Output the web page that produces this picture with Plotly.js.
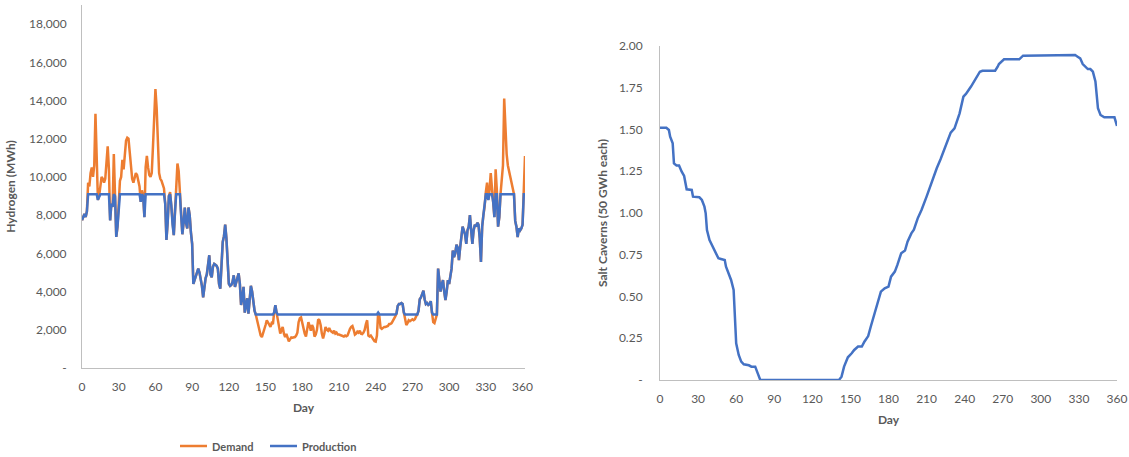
<!DOCTYPE html>
<html>
<head>
<meta charset="utf-8">
<script src="https://cdn.plot.ly/plotly-3.0.1.min.js"></script>
<style>html,body{margin:0;padding:0;background:#fff;}#chart{width:1129px;height:457px;}</style>
</head>
<body>
<div id="chart"></div>
<script>
// ---- Data ----
// Daily hydrogen demand (MWh), day 0..362
const demand = [
7730,7900,8070,7900,8200,9700,9500,10200,10500,10000,
10600,13300,11500,8800,9000,9400,10000,9900,9700,9900,
10800,11600,10400,7730,8600,8430,11200,9000,6860,7400,
8600,9800,10000,10900,10400,11000,11900,12050,12000,11300,
10300,9900,9700,9900,10200,10100,9800,9500,8700,9300,
9000,7900,10500,11100,10500,10100,10000,10200,11600,13000,
14600,13600,11800,10200,9900,9800,9600,9400,8600,6700,
7600,9000,9200,8500,7500,6950,8200,10000,10700,10300,
9300,8000,7000,7600,8400,7600,7300,8400,8000,7100,
6500,4400,4600,4800,5000,5200,5000,4700,4300,3700,
4300,4700,4900,5600,5900,4900,4750,5300,5450,5400,
5350,5200,4400,4150,5200,6600,6900,7500,6800,5800,
4400,4300,4350,4500,4850,4250,4500,4600,4950,4400,
3300,3700,4250,2900,3400,3650,2850,3500,4300,4000,
3400,3000,2800,2500,2150,1900,1700,1620,1800,2050,
2250,2500,2400,2250,2150,2350,2300,2900,3280,2900,
2500,2100,1800,2000,2150,1800,1620,1780,1600,1400,
1500,1600,1580,1600,1620,1700,1850,2400,2600,2650,
2300,1950,1800,1650,2000,2400,2200,1950,2250,2100,
1650,1750,2000,2550,2500,2250,1800,1550,1800,2150,
2000,1950,2100,1950,1900,1850,1950,1800,1850,1750,
1750,1720,1700,1680,1650,1700,1660,1700,1950,2050,
2150,2200,2000,1750,1800,1900,1850,1950,1800,1780,
1850,2000,2300,2500,1700,1650,1700,1600,1500,1400,
1380,1700,2900,2700,2100,2050,2100,2150,2150,2200,
2200,2300,2300,2350,2450,2550,2700,2850,3250,3350,
3350,3400,3350,2900,2500,2250,2350,2500,2450,2500,
2550,2500,2550,2700,2800,3000,3600,3700,3950,4050,
3600,3350,3400,3300,3350,3500,2900,2400,2350,2600,
2800,5200,4600,4000,4400,4600,4000,3550,4000,4600,
4400,4900,5200,6150,5800,6000,6450,6300,5650,6300,
6950,7400,7200,7000,6500,7200,7400,8000,7200,6500,
7200,7500,7400,7600,7500,6800,5550,7400,8000,8450,
9200,9700,8800,9300,10200,9400,8700,7900,10400,9300,
7400,7900,9100,9900,10600,14100,12500,11200,10600,10300,
10000,9600,9400,9100,7700,7400,6850,7300,7200,7300,
7500,9100,11100
];
// Daily hydrogen production (MWh), day 0..362
const production = [
7730,7900,8070,7900,8200,9100,9100,9100,9100,9100,
9100,9100,9100,8800,9000,9100,9100,9100,9100,9100,
9100,9100,9100,7730,8600,8430,9100,9000,6860,7400,
8600,9100,9100,9100,9100,9100,9100,9100,9100,9100,
9100,9100,9100,9100,9100,9100,9100,9100,8700,9100,
9000,7900,9100,9100,9100,9100,9100,9100,9100,9100,
9100,9100,9100,9100,9100,9100,9100,9100,8600,6700,
7600,9000,9100,8500,7500,6950,8200,9100,9100,9100,
9100,8000,7000,7600,8400,7600,7300,8400,8000,7100,
6500,4400,4600,4800,5000,5200,5000,4700,4300,3700,
4300,4700,4900,5600,5900,4900,4750,5300,5450,5400,
5350,5200,4400,4150,5200,6600,6900,7500,6800,5800,
4400,4300,4350,4500,4850,4250,4500,4600,4950,4400,
3300,3700,4250,2900,3400,3650,2850,3500,4300,4000,
3400,3000,2800,2800,2800,2800,2800,2800,2800,2800,
2800,2800,2800,2800,2800,2800,2800,2900,3280,2900,
2800,2800,2800,2800,2800,2800,2800,2800,2800,2800,
2800,2800,2800,2800,2800,2800,2800,2800,2800,2800,
2800,2800,2800,2800,2800,2800,2800,2800,2800,2800,
2800,2800,2800,2800,2800,2800,2800,2800,2800,2800,
2800,2800,2800,2800,2800,2800,2800,2800,2800,2800,
2800,2800,2800,2800,2800,2800,2800,2800,2800,2800,
2800,2800,2800,2800,2800,2800,2800,2800,2800,2800,
2800,2800,2800,2800,2800,2800,2800,2800,2800,2800,
2800,2800,2900,2800,2800,2800,2800,2800,2800,2800,
2800,2800,2800,2800,2800,2800,2800,2850,3250,3350,
3350,3400,3350,2900,2800,2800,2800,2800,2800,2800,
2800,2800,2800,2800,2800,3000,3600,3700,3950,4050,
3600,3350,3400,3300,3350,3500,2900,2800,2800,2800,
2800,5200,4600,4000,4400,4600,4000,3550,4000,4600,
4400,4900,5200,6150,5800,6000,6450,6300,5650,6300,
6950,7400,7200,7000,6500,7200,7400,8000,7200,6500,
7200,7500,7400,7600,7500,6800,5550,7400,8000,8450,
9100,9100,8800,9100,9100,9100,8700,7900,9100,9100,
7400,7900,9100,9100,9100,9100,9100,9100,9100,9100,
9100,9100,9100,9100,7700,7400,6850,7300,7200,7300,
7500,9100,9100
];
const days = demand.map((_, i) => i);

// Salt cavern storage level (number of 50 GWh caverns)
const cavernDays = [0,5,7,8,10,11,13,15,17,19,21,23,25,26,29,31,33,35,36,37,39,41,42,44,46,48,51,52,54,56,58,59,60,62,64,66,70,72,75,77,79,141,143,145,148,151,153,156,159,161,164,166,169,172,174,177,180,182,185,187,190,193,195,198,200,203,206,210,214,218,221,225,229,232,236,239,241,245,249,252,254,264,266,267,271,283,286,327,329,331,333,337,339,341,343,344,345,347,350,358,360];
const cavernLevel = [1.51,1.51,1.497,1.457,1.417,1.297,1.285,1.285,1.249,1.222,1.142,1.138,1.138,1.098,1.098,1.094,1.078,1.038,0.998,0.898,0.838,0.808,0.788,0.758,0.729,0.725,0.719,0.679,0.639,0.599,0.539,0.399,0.22,0.15,0.11,0.094,0.088,0.08,0.08,0.04,0,0,0.02,0.08,0.136,0.16,0.18,0.2,0.2,0.229,0.263,0.319,0.399,0.469,0.529,0.549,0.559,0.619,0.649,0.689,0.759,0.775,0.828,0.878,0.9,0.968,1.018,1.098,1.188,1.268,1.322,1.407,1.481,1.507,1.597,1.697,1.713,1.757,1.807,1.846,1.852,1.852,1.876,1.892,1.92,1.92,1.942,1.946,1.936,1.926,1.892,1.862,1.862,1.846,1.788,1.687,1.627,1.587,1.573,1.573,1.521];

// Tick labels and legend entries
const dayTicks = [0,30,60,90,120,150,180,210,240,270,300,330,360];
const hTickVals = [0,2000,4000,6000,8000,10000,12000,14000,16000,18000];
const hTickText = ['-','2,000','4,000','6,000','8,000','10,000','12,000','14,000','16,000','18,000'];
const cTickVals = [0,0.25,0.5,0.75,1,1.25,1.5,1.75,2];
const cTickText = ['-','0.25','0.50','0.75','1.00','1.25','1.50','1.75','2.00'];
const seriesNames = ['Demand', 'Production'];

// ---- Plot ----
const W = 1129, H = 457;
const FONT = 'Lato, "Open Sans", sans-serif';
const tickFont = {family: FONT, size: 12, color: '#595959'};
const titleFont = {family: FONT, size: 12, color: '#595959'};
const ORANGE = '#ED7D31', BLUE = '#4472C4';
const seriesColors = [ORANGE, BLUE];

const traces = [
  {x: days, y: demand, type: 'scatter', mode: 'lines', name: seriesNames[0],
   line: {color: ORANGE, width: 2.5}, xaxis: 'x', yaxis: 'y'},
  {x: days, y: production, type: 'scatter', mode: 'lines', name: seriesNames[1],
   line: {color: BLUE, width: 2.5}, xaxis: 'x', yaxis: 'y'},
  {x: cavernDays, y: cavernLevel, type: 'scatter', mode: 'lines', name: 'Salt Caverns',
   line: {color: BLUE, width: 2.5}, xaxis: 'x2', yaxis: 'y2'}
];

// Legend drawn manually (so it does not push the margins)
const legY = 1 - 446 / H;
const legLines = [[180, 207], [270, 297]];
const legText = [210, 300];
const shapes = legLines.map((p, i) => ({type: 'line', xref: 'paper', yref: 'paper',
  x0: p[0] / W, x1: p[1] / W, y0: legY, y1: legY, line: {color: seriesColors[i], width: 2.5}}));
const annotations = legText.map((x, i) => ({xref: 'paper', yref: 'paper', x: x / W, y: legY,
  xanchor: 'left', yanchor: 'middle', showarrow: false, text: '<b>' + seriesNames[i] + '</b>',
  font: {family: FONT, size: 11, color: '#595959'}}));

const axBase = {showline: true, linecolor: '#BFBFBF', linewidth: 1, showgrid: false,
  zeroline: false, ticks: '', tickfont: tickFont, fixedrange: true, automargin: false};

const layout = {
  width: W, height: H,
  margin: {l: 0, r: 0, t: 0, b: 0},
  paper_bgcolor: '#ffffff', plot_bgcolor: '#ffffff',
  showlegend: false,
  shapes: shapes,
  annotations: annotations,
  xaxis: Object.assign({}, axBase, {domain: [82 / W, 525 / W], range: [0, 362], anchor: 'y',
    tickmode: 'array', tickvals: dayTicks, ticklabelstandoff: 8,
    title: {text: '<b>Day</b>', font: titleFont, standoff: 10}}),
  yaxis: Object.assign({}, axBase, {domain: [1 - 368 / H, 1 - 5 / H], range: [0, 19000], anchor: 'x',
    tickmode: 'array', tickvals: hTickVals, ticktext: hTickText, ticklabelstandoff: 12,
    title: {text: '<b>Hydrogen (MWh)</b>', font: titleFont, standoff: 10}}),
  xaxis2: Object.assign({}, axBase, {domain: [660 / W, 1117 / W], range: [0, 360], anchor: 'y2',
    tickmode: 'array', tickvals: dayTicks, ticklabelstandoff: 8,
    title: {text: '<b>Day</b>', font: titleFont, standoff: 10}}),
  yaxis2: Object.assign({}, axBase, {domain: [1 - 380 / H, 1 - 46 / H], range: [0, 2], anchor: 'x2',
    tickmode: 'array', tickvals: cTickVals, ticktext: cTickText, ticklabelstandoff: 14,
    title: {text: '<b>Salt Caverns (50 GWh each)</b>', font: titleFont, standoff: 8}})
};

Plotly.newPlot('chart', traces, layout, {displayModeBar: false, staticPlot: true});
</script>
</body>
</html>
